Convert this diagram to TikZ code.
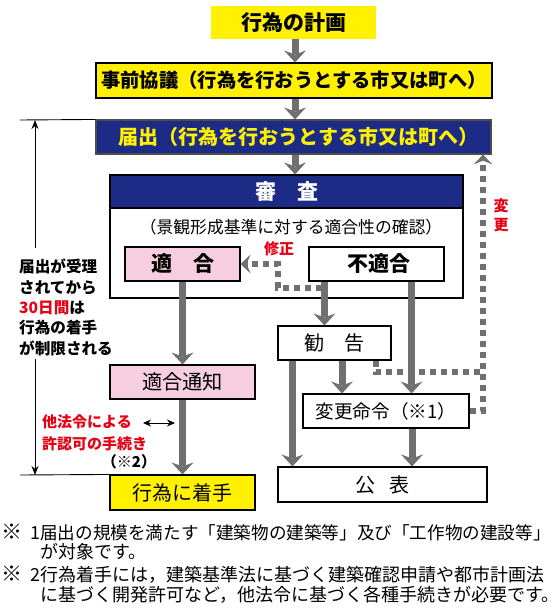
\documentclass[tikz,border=0pt]{standalone}
\usepackage{fontspec}
\setmainfont{Noto Sans CJK JP}
\usetikzlibrary{arrows.meta,calc}
\definecolor{kyellow}{HTML}{FFF100}
\definecolor{kblue}{HTML}{1C2B86}
\definecolor{kpink}{HTML}{F7CEDF}
\definecolor{kgray}{HTML}{707070}
\definecolor{kred}{HTML}{E60012}
\newcommand{\fs}[1]{\fontsize{#1}{#1}\selectfont}
\begin{document}
\begin{tikzpicture}[x=1pt,y=-1pt,
  box/.style={draw=black, line width=1.1pt, inner sep=0pt, align=center},
  garrow/.style={draw=kgray, line width=7pt, -{Stealth[length=12pt,width=22pt,inset=4pt,line width=0pt]}},
  dotline/.style={draw=kgray, line width=6pt, dash pattern=on 6pt off 5pt},
  dotarrow/.style={dotline, -{Stealth[length=10pt,width=19pt,inset=4pt,line width=0pt]}},
  thinarrow/.style={draw=black, line width=0.9pt, -{Stealth[length=9pt,width=7pt]}},
  note/.style={inner sep=0pt, anchor=west, align=left}
]
\useasboundingbox (0,0) rectangle (558,610);

% main boxes
\node[fill=kyellow, inner sep=0pt, minimum width=165pt, minimum height=33pt, font=\fs{21}\bfseries] (plan) at (293.5,22.5) {行為の計画};
\node[box, fill=kyellow, minimum width=396pt, minimum height=35pt, font=\fs{19.3}\bfseries] (prior) at (294,80.5) {事前協議（行為を行おうとする市又は町へ）};
\node[box, draw=black!70, fill=kblue, text=kyellow, minimum width=395pt, minimum height=34pt, font=\fs{20}\bfseries] (todoke) at (293.5,137) {\hspace{10pt}届出（行為を行おうとする市又は町へ）};

% review box
\node[box, minimum width=353pt, minimum height=123pt] (shinsa) at (286.5,236.5) {};
\node[box, fill=kblue, text=white, minimum width=353pt, minimum height=33pt, font=\fs{21}\bfseries, anchor=north] (shead) at (shinsa.north) {審　査};
\node[inner sep=0pt, font=\fs{16.8}] (sub) at (291,227) {（景観形成基準に対する適合性の確認）};
\node[box, fill=kpink, minimum width=115pt, minimum height=34pt, font=\fs{21}\bfseries] (tekigo) at (182.5,264) {適　合};
\node[box, fill=white, minimum width=135pt, minimum height=34pt, font=\fs{21}\bfseries] (futekigo) at (376.5,264) {\hspace{5pt}不適合};

% lower boxes
\node[box, fill=white, minimum width=113pt, minimum height=34pt, font=\fs{20}] (kankoku) at (334.5,343) {勧　告};
\node[box, fill=white, minimum width=166pt, minimum height=34pt, font=\fs{18.6}] (henko) at (386,411) {変更命令（※1）};
\node[box, fill=white, minimum width=209pt, minimum height=35pt, font=\fs{20}] (kohyo) at (382.5,484.5) {公\hspace{14pt}表};
\node[box, fill=kpink, minimum width=145pt, minimum height=34pt, font=\fs{20.2}] (tsuchi) at (182.5,382) {適合通知};
\node[box, fill=kyellow, minimum width=145pt, minimum height=35pt, font=\fs{20}] (chaku) at (182.5,492.5) {行為に着手};

% gray arrows
\draw[garrow] (plan.south -| todoke.north) ++(1.5,0) coordinate (p1) -- (p1 |- prior.north);
\coordinate (p2) at ($(prior.south)+(1,0)$);
\draw[garrow] (p2) -- (p2 |- todoke.north);
\coordinate (p3) at ($(todoke.south)+(1.5,0)$);
\draw[garrow] (p3) -- (p3 |- shinsa.north);
\draw[garrow] (tekigo.south) -- (tsuchi.north);
\draw[garrow] (tsuchi.south) -- (chaku.north);
\coordinate (f1) at ($(futekigo.south west)+(16,0)$);
\draw[garrow] (f1) -- (f1 |- kankoku.north);
\coordinate (f2) at ($(futekigo.south east)+(-33,0)$);
\draw[garrow] (f2) -- (f2 |- henko.north);
\coordinate (k1) at ($(kankoku.south)+(7.5,0)$);
\draw[garrow] (k1) -- (k1 |- henko.north);
\coordinate (k2) at ($(kankoku.south west)+(15,0)$);
\draw[garrow] (k2) -- (k2 |- kohyo.north);
\coordinate (h1) at ($(henko.south)+(26,0)$);
\draw[garrow] (h1) -- (h1 |- kohyo.north);

% dotted connectors
\coordinate (d1) at (322,288);
\coordinate (d2) at (278,288);
\draw[dotarrow] (d1) -- (d2) |- (tekigo.east);
\node[inner sep=0pt, text=kred, font=\fs{15}\bfseries] (shusei) at (279,249) {修正};
\coordinate (r1) at ($(kankoku.south east)+(-16,0)$);
\coordinate (r2) at (483,372);
\draw[dotline] (r1) |- (r2);
\coordinate (r3) at (483,411);
\draw[dotarrow] (henko.east) -- (r3) -- (r3 |- todoke.south);
\node[inner sep=0pt, text=kred, font=\fs{15}\bfseries, align=center] (henkou) at (501,215) {変\\[4pt]更};

% left time annotation
\coordinate (lt) at (20,120);
\draw[line width=0.9pt] (lt) -- (todoke.north west);
\coordinate (lb) at (20,475);
\draw[line width=0.9pt] (lb) -- (chaku.north west);
\coordinate (la) at (35,248);
\draw[thinarrow] (la) -- (la |- lt);
\coordinate (lc) at (35,359);
\draw[thinarrow] (lc) -- (lc |- lb);
\node[note, font={\fontsize{15.6}{20.4}\selectfont\bfseries}] (leftnote) at (19,307.5) {%
届出が受理\\されてから\\\textcolor{kred}{30日間}は\\行為の着手\\が制限される};

% other-law note
\node[note, text=kred, font={\fontsize{15}{21.6}\selectfont\bfseries}] (other) at (42,432.5) {%
他法令による\\許認可の手続き};
\node[inner sep=0pt, font=\fs{15}\bfseries] (kome2) at (129,462) {（※2）};
\coordinate (o1) at (143,423);
\coordinate (o2) at (175,423);
\draw[draw=black, line width=0.9pt, {Stealth[length=8pt,width=7pt]}-{Stealth[length=8pt,width=7pt]}] (o1) -- (o2);

% footnotes
\node[note, font=\fs{18}] (fn1) at (1,532) {\makebox[29pt][l]{\fs{21}※}\makebox[10pt][l]{1}{\fs{17.6}届出の規模を満たす「建築物の建築等」及び「工作物の建設等」}};
\node[note, font=\fs{18}] (fn1b) at (40,552) {が対象です。};
\node[note, font=\fs{18}] (fn2) at (1,575) {\makebox[29pt][l]{\fs{21}※}\makebox[10pt][l]{2}行為着手には，建築基準法に基づく建築確認申請や都市計画法};
\node[note, font=\fs{18}] (fn2b) at (40,595) {に基づく開発許可など，他法令に基づく各種手続きが必要です。};
\end{tikzpicture}
\end{document}
